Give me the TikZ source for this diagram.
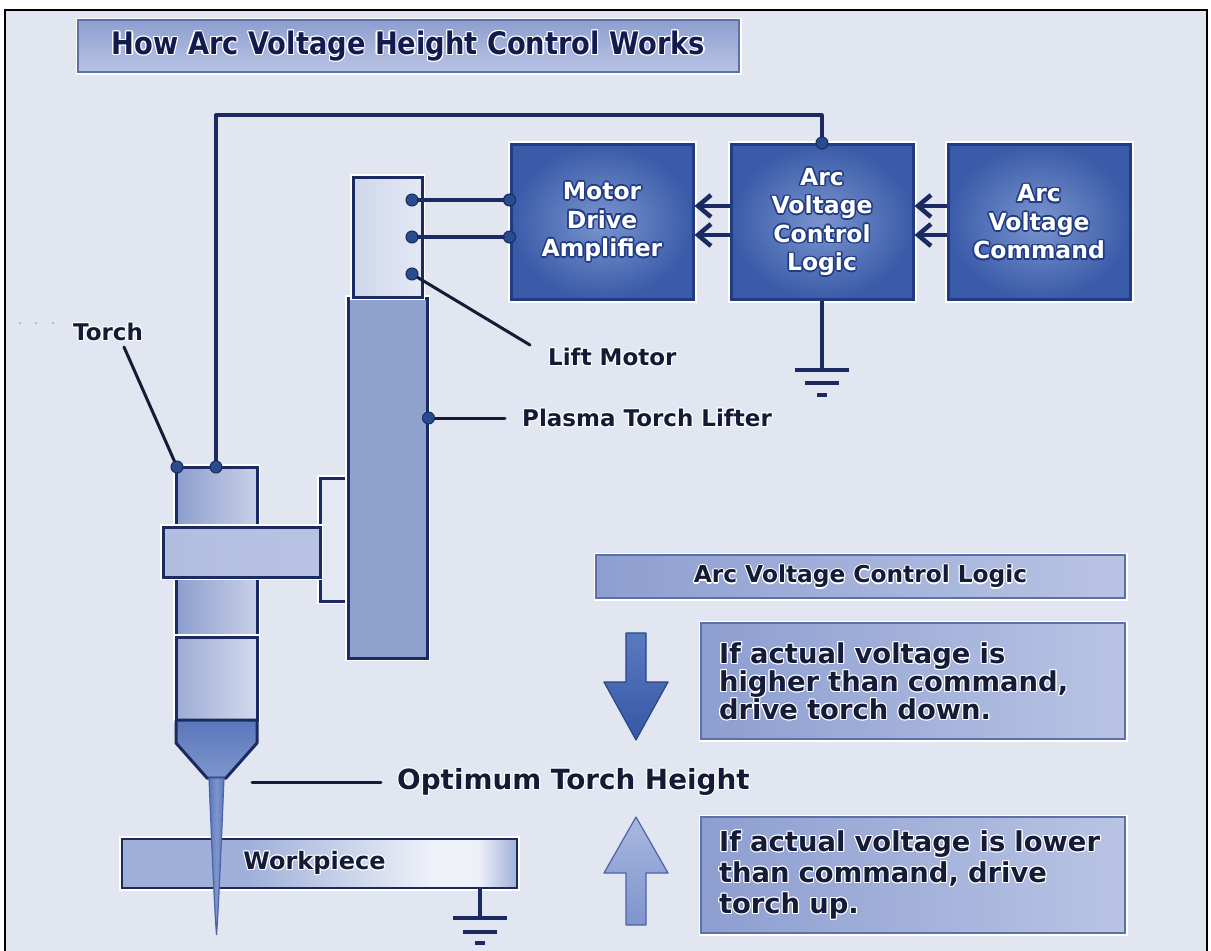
\documentclass[tikz,border=0pt]{standalone}
\usepackage{fontspec}
\setmainfont{DejaVu Sans}
\newfontfamily\condfont{DejaVu Sans}[FakeStretch=0.88]
\usetikzlibrary{arrows.meta}

% palette
\definecolor{bg}{HTML}{E1E6F1}
\definecolor{wire}{HTML}{1B2A60}
\definecolor{ink}{HTML}{151A36}
\definecolor{titleink}{HTML}{121A4E}
\definecolor{boxedge}{HTML}{223C84}
\definecolor{boxout}{HTML}{3A5BA9}
\definecolor{boxin}{HTML}{7A94CD}
\definecolor{dotc}{HTML}{2A4C8E}
\definecolor{panA}{HTML}{8D9ED0}
\definecolor{panB}{HTML}{B9C4E4}
\definecolor{panedge}{HTML}{5E70A8}
\definecolor{lift}{HTML}{8FA2CE}
\definecolor{pale}{HTML}{E4E8F3}
\definecolor{paleB}{HTML}{CFD7EB}
\definecolor{torchA}{HTML}{8D9ECD}
\definecolor{torchB}{HTML}{C8D0E9}
\definecolor{nozzle}{HTML}{5A77BC}
\definecolor{nozzleB}{HTML}{7F95CD}
\definecolor{clampc}{HTML}{B8C3E3}
\definecolor{wpA}{HTML}{A0B0D9}
\definecolor{wpW}{HTML}{EEF1F8}
\definecolor{downA}{HTML}{5A7AC0}
\definecolor{downB}{HTML}{3558A5}
\definecolor{upA}{HTML}{A9B8E0}
\definecolor{upB}{HTML}{7E94CB}
\definecolor{upedge}{HTML}{4A64A6}

\pgfdeclarehorizontalshading{wpshade}{100bp}{color(0bp)=(wpA); color(25bp)=(wpA); color(41bp)=(wpA); color(64bp)=(wpW); color(70bp)=(wpW); color(75bp)=(wpA); color(100bp)=(wpA)}

% lettering with an outline made of eight offset copies (smashed so line spacing is kept)
\newdimen\hdist
\newcommand\hcopy[3]{\rlap{\smash{\kern#1\raisebox{#2}{#3}}}}
\newcommand\halo[3]{\leavevmode{\color{#1}\hdist=#2\relax
  \hcopy{\hdist}{0pt}{#3}\hcopy{-\hdist}{0pt}{#3}%
  \hcopy{0pt}{\hdist}{#3}\hcopy{0pt}{-\hdist}{#3}%
  \hcopy{.7\hdist}{.7\hdist}{#3}\hcopy{-.7\hdist}{.7\hdist}{#3}%
  \hcopy{.7\hdist}{-.7\hdist}{#3}\hcopy{-.7\hdist}{-.7\hdist}{#3}}#3}
\newcommand\wt[1]{\halo{boxedge}{1.7pt}{#1}}
\newcommand\lb[1]{\halo{white}{1.2pt}{#1}}

\tikzset{
  wire/.style={draw=wire, line width=3.2, line cap=round, line join=round},
  leader/.style={draw=ink, line width=3, line cap=round},
  dot/.style={circle, fill=dotc, draw=wire, line width=1, minimum size=12, inner sep=0},
  ctrlbox/.style={rectangle, draw=boxedge, line width=3, inner color=boxin, outer color=boxout,
    minimum width=182, minimum height=155, inner sep=0, text=white, align=center,
    font=\bfseries\fontsize{23.5}{28.5}\selectfont, preaction={draw=white, line width=7}},
  panel/.style={rectangle, draw=panedge, line width=2, left color=panA, right color=panB,
    inner sep=0, text=ink, preaction={draw=white, line width=5}},
  part/.style={rectangle, draw=wire, line width=3, inner sep=0, preaction={draw=white, line width=6}},
  lbl/.style={inner sep=0, text=ink, font=\bfseries\fontsize{23}{27}\selectfont},
  gnd/.style={draw=wire, line width=4},
  flow/.style={draw=wire, line width=4.5, -{Straight Barb[length=13pt, width=22pt]}},
}

\begin{document}
\begin{tikzpicture}[x=1pt, y=-1pt]
\useasboundingbox (0,0) rectangle (1211,951);
% sheet and frame
\fill[white] (0,0) rectangle (1211,951);
\fill[bg] (5,10) rectangle (1207,951);
\draw[black, line width=1.6] (5,951) -- (5,10) -- (1207,10) -- (1207,951);
\fill[gray!70] (20,323) circle (1) (36,323) circle (1) (53,323) circle (1);

% heading
\node[panel, top color=panA, bottom color=panB, minimum width=661, minimum height=52,
  text=titleink, font=\condfont\bfseries\fontsize{31}{31}\selectfont] (title) at (408.5,46)
  {\lb{How Arc Voltage Height Control Works}};

% control chain
\node[ctrlbox] (amp) at (602,222) {\wt{Motor}\\\wt{Drive}\\\wt{Amplifier}};
\node[ctrlbox] (logic) at (822,222) {\wt{Arc}\\\wt{Voltage}\\\wt{Control}\\\wt{Logic}};
\node[ctrlbox] (cmd) at (1039,222) {\wt{Arc}\\\wt{Voltage}\\\wt{Command}};

\draw[flow] ([yshift=16pt]cmd.west) -- ([yshift=16pt]logic.east);
\draw[flow] ([yshift=-13pt]cmd.west) -- ([yshift=-13pt]logic.east);
\draw[flow] ([yshift=16pt]logic.west) -- ([yshift=16pt]amp.east);
\draw[flow] ([yshift=-13pt]logic.west) -- ([yshift=-13pt]amp.east);

% ground under the control logic
\coordinate (lgnd) at (822,370);
\draw[gnd] (logic.south) -- (lgnd);
\draw[gnd] ([xshift=-27pt]lgnd) -- ([xshift=27pt]lgnd);
\draw[gnd] ([xshift=-17pt,yshift=-13pt]lgnd) -- ([xshift=17pt,yshift=-13pt]lgnd);
\draw[gnd] ([xshift=-5pt,yshift=-25pt]lgnd) -- ([xshift=5pt,yshift=-25pt]lgnd);

% workpiece and its ground
\node[part, line width=2.6, shading=wpshade, minimum width=395, minimum height=49] (work) at (319.5,863.5) {};
\node[lbl, font=\bfseries\fontsize{24}{28}\selectfont] (worklbl) at (314.5,863) {\lb{Workpiece}};
\coordinate (wg) at (480,918);
\draw[gnd, line width=3.5] (480,888) -- (wg);
\draw[gnd] ([xshift=-27pt]wg) -- ([xshift=27pt]wg);
\draw[gnd] ([xshift=-17pt,yshift=-14pt]wg) -- ([xshift=17pt,yshift=-14pt]wg);
\draw[gnd] ([xshift=-5pt,yshift=-25pt]wg) -- ([xshift=5pt,yshift=-25pt]wg);

% torch
\node[part, left color=torchA, right color=torchB, minimum width=81, minimum height=170] (torch) at (216.5,552) {};
\node[part, left color=torchA!70!torchB, right color=torchB!80!white, minimum width=81, minimum height=83] (torchmid) at (216.5,678.5) {};
\shade[top color=nozzle, bottom color=nozzleB, draw=wire, line width=3, line join=round]
  (176,720) -- (257,720) -- (257,743) -- (226,778) -- (207,778) -- (176,743) -- cycle;
\shade[left color=nozzle, right color=nozzle, middle color=nozzleB, draw=upedge, line width=1.2]
  (209,778) .. controls (212,850) and (214,900) .. (216.5,935) .. controls (219,900) and (221,850) .. (224,778) -- cycle;

% lifter assembly
\node[part, fill=pale, minimum width=28, minimum height=123] (plate) at (334,539.5) {};
\node[part, left color=clampc!85!torchA, right color=clampc, minimum width=157, minimum height=50] (clamp) at (241.5,552) {};
\node[part, fill=lift, minimum width=79, minimum height=360] (lifter) at (387.5,478) {};
\node[part, left color=paleB, right color=pale, minimum width=69, minimum height=120] (motor) at (387.5,237) {};

% motor leads
\node[dot] (m1) at (412,200) {};
\node[dot] (m2) at (412,237) {};
\node[dot] (a1) at (amp.west |- m1) {};
\node[dot] (a2) at (amp.west |- m2) {};
\draw[wire] (m1) -- (a1);
\draw[wire] (m2) -- (a2);

% arc voltage feedback from the torch
\coordinate (b1) at (216,115);
\coordinate (b2) at (822,115);
\node[dot] (lg) at (logic.north) {};
\draw[wire] (216,467) -- (b1) -- (b2) -- (lg);
\node[dot] (t2) at (216,467) {};

% labels
\node[lbl] (torchlbl) at (108,332) {\lb{Torch}};
\coordinate (tl) at (124,347);
\draw[leader] (tl) -- (177,467);
\node[dot] (t1) at (177,467) {};

\node[lbl, anchor=west] (liftlbl) at (548,357) {\lb{Lift Motor}};
\coordinate (ll) at (530,345);
\draw[leader] (412,274) -- (ll);
\node[dot] (m3) at (412,274) {};

\node[dot] (lf) at (lifter.east |- 0,418) {};
\node[lbl, anchor=west] (lifterlbl) at (522,418) {\lb{Plasma Torch Lifter}};
\draw[leader] (lf) -- (lifterlbl.west -| 505,0);

\node[lbl, anchor=west, font=\bfseries\fontsize{27.8}{30}\selectfont] (optlbl) at (397,782) {\lb{Optimum Torch Height}};
\coordinate (ol) at (252,782);
\draw[leader] (ol) -- (optlbl.west -| 381,0);

% control logic summary
\node[panel, minimum width=529, minimum height=43, font=\bfseries\fontsize{23.3}{27}\selectfont] (hdr) at (860.5,576.5) {\lb{Arc Voltage Control Logic}};
\node[panel, minimum width=424, minimum height=116, text width=388, align=left,
  font=\bfseries\fontsize{27.4}{28}\selectfont] (down) at (913,681)
  {\lb{If actual voltage is}\\\lb{higher than command,}\\\lb{drive torch down.}};
\node[panel, minimum width=424, minimum height=116, text width=388, align=left,
  font=\bfseries\fontsize{27.4}{31}\selectfont] (up) at (913,875)
  {\lb{If actual voltage is lower}\\\lb{than command, drive}\\\lb{torch up.}};

% direction arrows
\shade[top color=downA, bottom color=downB, draw=downB!80!black, line width=1.2, line join=round]
  (626,633) -- (646,633) -- (646,682) -- (668,682) -- (636,740) -- (604,682) -- (626,682) -- cycle;
\shade[top color=upA, bottom color=upB, draw=upedge, line width=1.2, line join=round]
  (636,817) -- (668,873) -- (646,873) -- (646,925) -- (626,925) -- (626,873) -- (604,873) -- cycle;
\end{tikzpicture}
\end{document}
